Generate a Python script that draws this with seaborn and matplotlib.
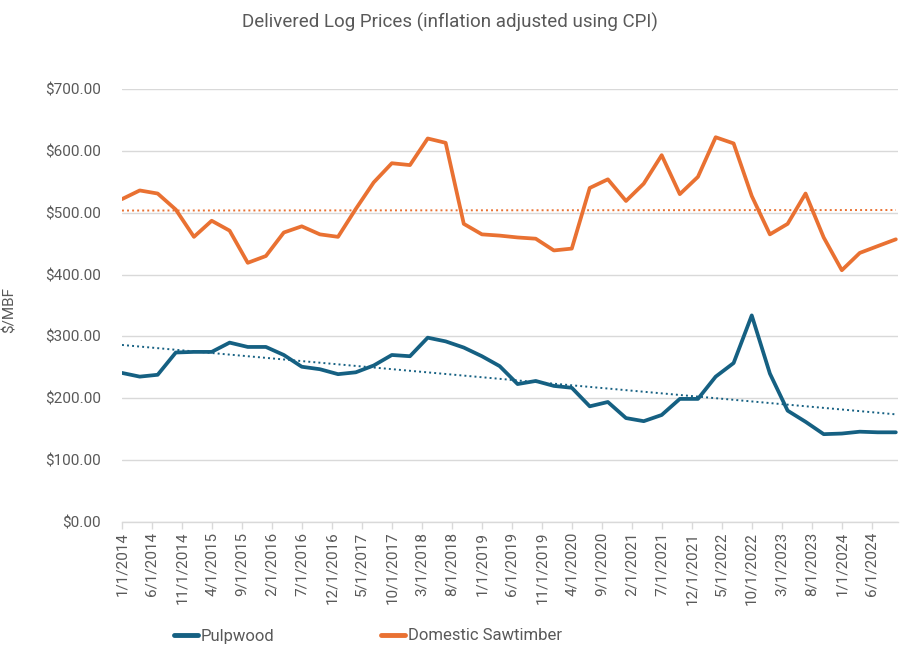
import numpy as np
import pandas as pd
import matplotlib
matplotlib.use("Agg")
import matplotlib.pyplot as plt
import matplotlib.dates as mdates
from matplotlib.ticker import FuncFormatter
from matplotlib.lines import Line2D
import seaborn as sns

# ---- data (quarterly, 1/1/2014 .. 10/1/2024) ----
dates = pd.date_range("2014-01-01", "2024-10-01", freq="QS")
pulpwood = [241, 235, 238, 274, 275, 275, 290, 283, 283, 270,
            251, 247, 239, 242, 253, 270, 268, 298, 292, 282,
            268, 252, 223, 228, 220, 217, 187, 194, 168, 163,
            173, 199, 199, 235, 257, 334, 240, 180, 162, 142,
            143, 146, 145, 145]
sawtimber = [522, 536, 531, 505, 461, 487, 471, 419, 430, 468,
             478, 465, 461, 506, 549, 580, 577, 620, 613, 482,
             465, 463, 460, 458, 439, 442, 540, 554, 519, 547,
             593, 530, 558, 622, 612, 527, 465, 482, 531, 460,
             407, 435, 446, 457]
series_names = ["Pulpwood", "Domestic Sawtimber"]
tick_dates = pd.date_range("2014-01-01", "2024-10-01", freq="5MS")
title = "Delivered Log Prices (inflation adjusted using CPI)"
ylabel = "$/MBF"

colors = {"Pulpwood": "#156082", "Domestic Sawtimber": "#E97132"}

df = pd.DataFrame({
    "date": list(dates) * 2,
    "price": pulpwood + sawtimber,
    "series": [series_names[0]] * len(dates) + [series_names[1]] * len(dates),
})

sns.set_theme(style="white")
plt.rcParams["font.family"] = ["Roboto", "DejaVu Sans"]
text_color = "#595959"

fig = plt.figure(figsize=(9, 6.48), dpi=100)
ax = fig.add_axes([122 / 900, 1 - 522 / 648, (898 - 122) / 900, (522 - 89) / 648])

sns.lineplot(data=df, x="date", y="price", hue="series", palette=colors,
             linewidth=2.7, ax=ax, legend=False, zorder=3)

# linear trendlines (least squares on the data)
xnum = mdates.date2num(dates)
for name, vals in zip(series_names, [pulpwood, sawtimber]):
    coef = np.polyfit(xnum, np.array(vals, dtype=float), 1)
    ax.plot(dates, np.polyval(coef, xnum), color=colors[name],
            linestyle=(0, (1, 1.6)), linewidth=1.4, zorder=2)

ax.set_ylim(0, 700)
ax.set_yticks(np.arange(0, 701, 100))
ax.yaxis.set_major_formatter(FuncFormatter(lambda v, p: f"${v:,.2f}"))
ax.set_xlim(mdates.date2num(pd.Timestamp("2014-01-01")),
            mdates.date2num(pd.Timestamp("2024-10-12")))
ax.set_xticks(tick_dates)
ax.set_xticklabels([f"{d.month}/{d.day}/{d.year}" for d in tick_dates],
                   rotation=90)

ax.grid(axis="y", color="#D9D9D9", linewidth=1.0, zorder=0)
ax.grid(axis="x", visible=False)
for s in ["top", "right", "left"]:
    ax.spines[s].set_visible(False)
ax.spines["bottom"].set_color("#D9D9D9")
ax.spines["bottom"].set_linewidth(1.0)
ax.tick_params(axis="x", length=5, width=1, color="#D9D9D9",
               labelsize=11, labelcolor=text_color, pad=2, direction="out",
               bottom=True)
ax.tick_params(axis="y", length=0, labelsize=11, labelcolor=text_color, pad=15)

ax.set_xlabel("")
ax.set_ylabel(ylabel, color=text_color, fontsize=11)
ax.yaxis.set_label_coords(-105 / 776, 0.49)

fig.suptitle(title, x=0.5, y=1 - 22 / 648, va="center", fontsize=13.5,
             color=text_color)

handles = [Line2D([0], [0], color=colors[n], linewidth=3.5) for n in series_names]
fig.legend(handles, series_names, loc="center", ncol=2,
           bbox_to_anchor=(368 / 900, 1 - 636 / 648), frameon=False,
           fontsize=12, labelcolor=text_color, handlelength=1.45,
           handletextpad=0.15, columnspacing=6.4)

fig.savefig("out.png", dpi=100)
